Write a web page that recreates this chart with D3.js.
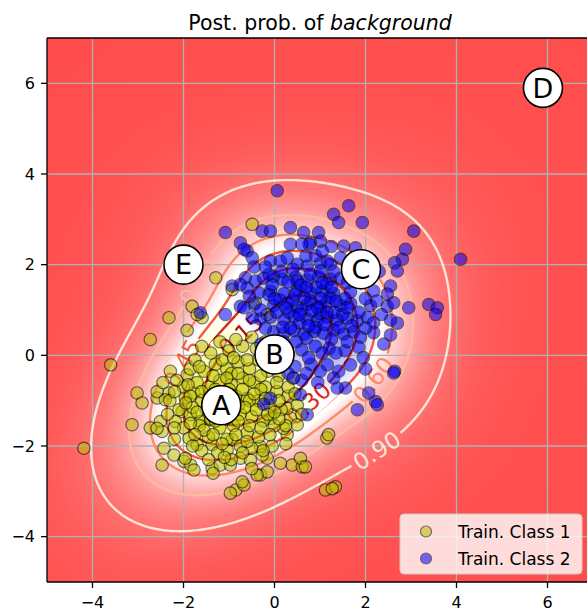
<!DOCTYPE html>
<html><head><meta charset="utf-8">
<script src="https://cdn.jsdelivr.net/npm/d3@7"></script>
<style>body{margin:0;background:#fff}svg{display:block}text{font-family:"DejaVu Sans",sans-serif}</style>
</head><body><svg id="chart" width="587" height="611"></svg>
<script>
const class1 = [[-0.49,2.89],[-1.29,1.71],[-0.93,1.45],[-1.81,1.08],[-1.59,0.83],[-1.70,0.90],[-2.32,0.83],[-2.73,0.35],[-3.60,-0.21],[-4.19,-2.05],[-1.92,0.55],[-3.02,-0.83],[-2.91,-1.05],[-2.58,-0.94],[-2.32,-0.83],[-3.13,-1.53],[-2.73,-1.60],[-2.51,-1.46],[-2.47,-1.68],[-2.43,-2.05],[-2.21,-2.20],[-2.47,-2.42],[-1.99,-2.34],[-1.84,-2.42],[-1.77,-2.53],[-1.37,-2.49],[-1.19,-2.42],[-0.85,-2.97],[-0.67,-2.86],[-0.97,-3.04],[-0.16,-2.27],[0.13,-2.38],[0.39,-2.42],[0.61,-2.46],[0.57,-2.27],[1.15,-1.82],[1.19,-1.75],[1.12,-2.97],[1.34,-2.90],[0.35,-1.38],[0.50,-1.53],[0.28,-1.75],[-0.27,-2.20],
[-2.58,-0.80],[-1.96,-0.94],[-1.77,-0.83],[-2.03,-1.24],[-1.85,-1.31],[-1.63,-1.46],[-1.41,-1.42],[-1.88,-1.83],[-1.70,-1.97],[-1.37,-1.97],[-1.96,-2.27],[-0.97,-2.42],[-0.75,-2.27],[-0.93,-1.86],[-1.04,-2.09],[-0.53,-2.31],[-0.31,-2.01],[-0.31,-2.64],[-0.16,-2.57],[-0.71,-2.79],[-2.29,-0.35],[-1.92,-0.43],[-2.40,-0.98],[-2.18,-1.46],[-2.58,-1.61],[-0.42,1.16],[-0.16,0.90],[-0.38,-2.64],[0.68,-2.46],[1.27,-2.94],[0.20,-1.61],[-0.09,-1.39],[0.28,-1.17],
[-1.55,-0.35],[-1.30,-0.20],[-1.05,-0.30],[-0.80,-0.15],[-0.55,-0.30],[-0.35,-0.10],[-0.15,-0.35],[0.10,-0.45],[-1.70,-0.60],[-1.45,-0.70],[-1.20,-0.55],[-0.95,-0.65],[-0.70,-0.50],[-0.45,-0.60],[-0.20,-0.70],[0.05,-0.80],[0.30,-0.90],[-1.60,-1.00],[-1.35,-0.95],[-0.85,-0.90],[-0.60,-0.95],[-0.35,-1.00],[-0.10,-1.10],[0.15,-1.20],[-1.80,-1.15],[-1.50,-1.20],[-0.75,-1.30],[-0.50,-1.35],[-0.25,-1.45],[0.00,-1.55],[-1.65,-1.55],[-1.20,-1.60],[-0.90,-1.55],[-0.60,-1.70],[-0.35,-1.80],[-1.45,-1.80],[-1.05,-1.85],[-0.75,-2.00],[-0.50,-2.05],[-1.25,-2.15],[-0.95,-2.30],[-1.60,-2.10],[-2.00,-1.60],[-2.10,-1.20],[-2.00,-0.70],[-1.85,-0.30],[-1.40,0.05],[-1.00,0.10],[-0.70,0.20],[-0.40,0.15],[-1.25,-1.25],[-1.00,-1.00],[-1.10,-0.80],[-0.80,-1.10],[-1.40,-1.40],[-0.30,-0.75],[0.40,-0.50],[0.50,-1.10],[0.25,-1.55],[-2.30,-1.00],[-0.55,-1.00],[-1.85,-0.90],[-2.15,-0.55],[-0.20,0.30],[-0.95,-0.40],[-1.75,-0.10],[0.20,-0.15],[-0.05,-2.00],[-1.35,-2.60],[-2.20,-1.85],
[-1.15,-0.10],[-0.90,-0.05],[-0.60,-0.10],[-1.65,-0.25],[-1.35,-0.45],[-1.05,-0.50],[-0.80,-0.40],[-0.55,-0.55],[-0.30,-0.45],[-1.90,-0.65],[-1.60,-0.80],[-1.30,-0.75],[-1.00,-0.75],[-0.70,-0.75],[-0.45,-0.85],[-0.20,-0.95],[0.10,-1.00],[-1.95,-1.05],[-1.70,-1.25],[-1.45,-1.10],[-1.15,-1.05],[-0.95,-1.20],[-0.65,-1.15],[-0.40,-1.20],[-0.15,-1.30],[0.10,-1.40],[-1.85,-1.50],[-1.55,-1.65],[-1.30,-1.45],[-1.05,-1.40],[-0.80,-1.45],[-0.55,-1.55],[-0.30,-1.60],[-0.10,-1.75],[-1.75,-1.75],[-1.35,-1.75],[-1.15,-1.95],[-0.85,-1.75],[-0.60,-1.90],[-0.25,-2.10],[-1.45,-2.30],[-1.10,-2.25],[-0.70,-2.15],[-1.80,-2.00],[-2.20,-1.60],[-2.35,-1.30],[-2.20,-0.80],[-2.45,-0.60],[-1.60,0.20],[-1.20,0.30],[-0.85,0.35],[-0.50,0.40],[0.05,-0.60],[0.30,-0.70],[0.45,-0.85],[0.60,-1.30],[0.00,-1.25],[-0.05,-0.20],[0.25,-1.95],[-0.50,-2.50]];
const class2 = [[0.06,3.63],[1.63,3.30],[1.30,3.11],[1.41,2.93],[1.93,2.93],[3.06,2.74],[-1.08,2.71],[-0.27,2.74],[-0.09,2.74],[0.35,2.82],[0.64,2.71],[0.97,2.71],[1.01,2.52],[0.79,2.48],[-0.75,2.48],[-0.60,2.30],[-0.49,2.15],[2.88,2.34],[2.81,2.12],[2.64,2.04],[4.09,2.12],[-0.45,1.95],[-0.09,2.08],[0.13,2.08],[0.50,2.01],[0.72,1.97],[1.01,2.04],[1.23,2.01],[2.70,1.86],[2.55,1.53],[2.95,1.05],[3.39,1.12],[3.58,1.05],[3.54,0.90],[2.48,1.08],[2.70,0.71],[2.64,-0.35],[2.22,-1.02],[1.82,-1.20],[1.56,-0.72],[1.38,-0.72],[0.72,-1.31],[-0.93,1.53],[-0.60,1.49],
[1.52,2.41],[1.78,2.37],[0.28,2.15],[0.69,2.19],[1.45,2.15],[-0.67,2.34],[1.16,2.08],[0.76,2.45],
[-0.64,1.71],[-0.42,1.64],[-0.24,1.70],[-0.02,1.74],[0.17,1.68],[0.46,1.72],[0.72,1.66],[0.97,1.74],[1.23,1.68],[1.45,1.70],
[-0.35,1.38],[-0.09,1.42],[0.21,1.36],[0.50,1.44],[0.79,1.38],[1.05,1.42],[1.30,1.36],[1.67,1.40],[2.18,1.42],[2.48,1.35],
[-0.75,1.08],[-0.45,1.12],[-0.02,1.10],[0.28,1.15],[0.50,1.06],[0.72,1.12],[1.01,1.08],[1.16,1.18],[1.45,1.10],[1.67,1.14],[2.11,1.10],[2.62,1.16],
[-0.31,0.80],[-0.09,0.84],[0.21,0.78],[0.43,0.86],[0.72,0.80],[0.94,0.76],[1.16,0.84],[1.38,0.78],[1.60,0.82],[1.82,0.76],[2.04,0.84],[2.18,0.72],[2.55,0.78],
[-0.02,0.52],[0.21,0.48],[0.43,0.55],[0.65,0.47],[0.87,0.53],[1.08,0.49],[1.30,0.56],[1.52,0.47],[1.74,0.52],[1.89,0.40],[2.18,0.50],[2.55,0.45],
[-1.63,0.94],[-1.08,0.90],[-0.67,1.05],[-0.49,0.83],[-0.12,1.34],[-0.75,1.56],[-0.05,1.56],[-0.12,1.79],[0.50,1.64],[0.79,1.79],[1.01,1.86],
[0.60,1.00],[0.80,1.20],[1.00,0.92],[0.90,0.62],[0.55,0.72],[0.70,0.38],[1.10,0.68],[1.22,1.28],[0.40,1.22],[0.32,0.95],[0.18,0.62],[1.32,0.95],[1.42,0.62],[0.92,1.50],[0.58,1.55],[1.15,1.58],[0.82,0.98],[0.65,1.28],[1.02,1.25],[1.25,0.35],[0.48,0.30],[0.05,0.95],[0.12,1.22],[1.55,1.25],[1.85,0.95],[2.00,1.25],[1.70,0.65],[0.30,1.62],
[-0.05,0.10],[0.30,0.05],[0.60,0.12],[0.90,0.20],[1.20,0.15],[1.55,0.10],[1.85,0.18],[0.45,-0.25],[0.80,-0.20],[1.16,-0.21],[1.41,-0.35],[1.67,-0.21],[2.00,-0.30],[2.62,-0.39],[0.60,-0.55],[0.95,-0.60],[1.30,-0.50],[2.07,-0.83],[2.26,-1.09],[0.30,-0.40],[0.42,-0.50],[0.57,-0.87],[-0.09,-0.95],[-0.24,-1.08],[-0.30,0.25],
[0.35,0.60],[0.55,0.90],[0.75,0.65],[0.95,1.05],[1.15,0.95],[1.35,1.20],[0.45,1.35],[0.70,1.50],[1.05,1.60],[1.25,1.50],[1.50,0.90],[1.60,1.05],[0.25,1.05],[0.00,1.25],[0.15,1.85],[0.40,1.90],[0.90,2.20],[1.30,1.85],[1.60,1.60],[1.90,1.60],[2.25,1.20],[2.35,0.90],[2.00,0.60],[1.60,0.30],[1.35,0.05],[1.05,0.05],[0.75,-0.05],[0.20,0.30],[-0.20,0.60],[-0.30,1.00],[-0.55,1.30],[-0.20,1.95],[0.60,2.45],[1.25,2.40],[1.05,2.30],[0.35,2.45],[2.30,1.85],[2.00,2.05],[1.75,1.85],[2.40,0.25],[1.95,-0.05],[1.00,-0.35],[0.70,-0.40]];

// lettered query points
const markLetters = ["A","B","C","D","E"];
const markX = [-1.17, 0.0, 1.9, 5.9, -2.0];
const markY = [-1.1, 0.02, 1.9, 5.9, 2.0];

// contour levels of the background posterior and where their labels sit
const levels = [0.15, 0.30, 0.45, 0.60, 0.75, 0.90];
const labelAtX = [-0.68, 0.70, -2.2, 2.11, -1.62, 2.22];
const labelAtY = [0.42, -1.0, -0.08, -0.5, 1.62, -2.08];
const ticks = [-4, -2, 0, 2, 4, 6];

// density model: two heavy-tailed (Student-t) components against a flat background
const compMeanX = [-0.307, 0.640];
const compMeanY = [-0.360, 0.946];
const compScaleMajor = [0.867, 0.958];
const compScaleMinor = [0.509, 0.750];
const compAngle = [0.727, 2.389];      // radians
const compWeight = [1.0, 0.223];
const tailDof = 2.962;
const bgLogLevel = -2.614;
// class split used for tinting: Gaussian classes
const classMeanX = [-1.0, 1.0];
const classMeanY = [-1.0, 1.0];
const classSigma = 1.2;

function components(X, Y){
  return compMeanX.map((mx, k) => {
    const c = Math.cos(compAngle[k]), s = Math.sin(compAngle[k]);
    const dx = X - mx, dy = Y - compMeanY[k];
    const u = (c*dx + s*dy) / compScaleMajor[k], v = (-s*dx + c*dy) / compScaleMinor[k];
    return compWeight[k] * Math.pow(1 + (u*u + v*v) / tailDof, -(tailDof + 2) / 2) / (compScaleMajor[k] * compScaleMinor[k]);
  });
}
function pBackground(X, Y){
  const k = components(X, Y), b = Math.exp(bgLogLevel);
  return b / (b + k[0] + k[1]);
}
function share1(X, Y){
  const d = classMeanX.map((mx, k) => ((X-mx)**2 + (Y-classMeanY[k])**2) / (2*classSigma*classSigma));
  return 1 / (1 + Math.exp(d[0] - d[1]));
}

const W = 587, H = 611;
const x = d3.scaleLinear().domain([-5, 7]).range([47, 593]);
const y = d3.scaleLinear().domain([-5, 7]).range([582, 38]);
const svg = d3.select("#chart");
const pw = 546, ph = 544;

// heat map of the posterior
const cv = document.createElement("canvas"); cv.width = pw; cv.height = ph;
const ctx = cv.getContext("2d"); const img = ctx.createImageData(pw, ph);
for (let j = 0; j < ph; j++) for (let i = 0; i < pw; i++) {
  const X = x.invert(47 + i + 0.5), Y = y.invert(38 + j + 0.5);
  const pb = pBackground(X, Y), w = share1(X, Y);
  let r, g, b;
  if (pb >= 0.5) { const a = 0.7 * (2*pb - 1); r = 255; g = 255*(1-a); b = 255*(1-a); }
  else {
    const a = 0.7 * (1 - 2*pb); let cr, cg, cb;
    if (w >= 0.5) { const t = 2*w - 1; cr = 255; cg = 255; cb = 255*(1-t); }
    else { const t = 1 - 2*w; cr = 255*(1-t); cg = 255*(1-t); cb = 255; }
    r = 255*(1-a) + cr*a; g = 255*(1-a) + cg*a; b = 255*(1-a) + cb*a;
  }
  const o = 4*(j*pw + i); img.data[o] = r; img.data[o+1] = g; img.data[o+2] = b; img.data[o+3] = 255;
}
ctx.putImageData(img, 0, 0);
const defs = svg.append("defs");
defs.append("clipPath").attr("id", "plotclip").append("rect").attr("x", 47).attr("y", 38).attr("width", pw).attr("height", ph);
svg.append("image").attr("x", 47).attr("y", 38).attr("width", pw).attr("height", ph).attr("href", cv.toDataURL());

// grid
const grid = svg.append("g").attr("stroke", "#b0b0b0").attr("stroke-width", 1.3);
ticks.forEach(t => {
  grid.append("line").attr("x1", x(t)).attr("x2", x(t)).attr("y1", 38).attr("y2", 582);
  grid.append("line").attr("y1", y(t)).attr("y2", y(t)).attr("x1", 47).attr("x2", 593);
});

// contours of the background posterior
const n = 300, step = 12 / n;
const vals = new Float64Array(n*n);
for (let j = 0; j < n; j++) for (let i = 0; i < n; i++) vals[j*n + i] = 1 - pBackground(-5 + (i+0.5)*step, 7 - (j+0.5)*step);
const cons = d3.contours().size([n, n]).thresholds(levels.map(t => 1 - t))(vals);
const toPx = c => [x(-5 + c[0]*step), y(7 - c[1]*step)];
const color = t => d3.interpolateReds(1 - t);
const mask = defs.append("mask").attr("id", "lblmask").attr("maskUnits", "userSpaceOnUse").attr("x", 0).attr("y", 0).attr("width", W).attr("height", H);
mask.append("rect").attr("width", W).attr("height", H).attr("fill", "white");
const cg = svg.append("g").attr("clip-path", "url(#plotclip)").append("g").attr("mask", "url(#lblmask)");
const lblG = svg.append("g");
cons.forEach(c => {
  const t = Math.round((1 - c.value) * 100) / 100;
  const k = levels.findIndex(l => Math.abs(l - t) < 1e-6);
  const rings = []; c.coordinates.forEach(poly => poly.forEach(ring => rings.push(ring.map(toPx))));
  cg.selectAll(null).data(rings).join("path").attr("d", r => d3.line()(r) + "Z")
    .attr("fill", "none").attr("stroke", color(t)).attr("stroke-width", 2.4);
  const ax = x(labelAtX[k]), ay = y(labelAtY[k]); let bi = null, bd = 1e9;
  rings.forEach(r => r.forEach((pt, i) => { const d = (pt[0]-ax)**2 + (pt[1]-ay)**2; if (d < bd) { bd = d; bi = [r, i]; } }));
  if (!bi) return;
  const [r, i] = bi, m = r.length, a = r[(i-4+m) % m], b = r[(i+4) % m];
  let ang = Math.atan2(b[1]-a[1], b[0]-a[0]) * 180 / Math.PI; if (ang > 90) ang -= 180; if (ang < -90) ang += 180;
  const tf = `translate(${r[i][0]},${r[i][1]}) rotate(${ang})`;
  const tx = lblG.append("text").attr("transform", tf).attr("text-anchor", "middle").attr("dy", "0.36em")
    .attr("font-size", 23).attr("fill", color(t)).text(t.toFixed(2));
  const tw = tx.node().getComputedTextLength();
  mask.append("rect").attr("x", -tw/2 - 4).attr("y", -14).attr("width", tw + 8).attr("height", 28).attr("fill", "black").attr("transform", tf);
});

// training points
const pts = svg.append("g").attr("clip-path", "url(#plotclip)");
pts.selectAll(null).data(class1).join("circle").attr("cx", d => x(d[0])).attr("cy", d => y(d[1])).attr("r", 6.2)
  .attr("fill", "#bfbf00").attr("stroke", "#000").attr("stroke-width", 1.2).attr("opacity", 0.55);
pts.selectAll(null).data(class2).join("circle").attr("cx", d => x(d[0])).attr("cy", d => y(d[1])).attr("r", 6.2)
  .attr("fill", "#0000ff").attr("stroke", "#000").attr("stroke-width", 1.2).attr("opacity", 0.55);

// lettered query points
const mk = svg.append("g").attr("clip-path", "url(#plotclip)").selectAll(null).data(markLetters).join("g")
  .attr("transform", (d, i) => `translate(${x(markX[i])},${y(markY[i])})`);
mk.append("circle").attr("r", 19.5).attr("fill", "white").attr("stroke", "black").attr("stroke-width", 1.6);
mk.append("text").attr("text-anchor", "middle").attr("dy", "0.36em").attr("font-size", 27).text(d => d);

// axes
const axg = svg.append("g").attr("stroke", "black").attr("stroke-width", 1.3);
axg.append("line").attr("x1", 47).attr("x2", 47).attr("y1", 38).attr("y2", 582);
axg.append("line").attr("x1", 47).attr("x2", 593).attr("y1", 38).attr("y2", 38);
axg.append("line").attr("x1", 47).attr("x2", 593).attr("y1", 582).attr("y2", 582);
const fmt = t => t < 0 ? "\u2212" + (-t) : String(t);
ticks.forEach(t => {
  axg.append("line").attr("x1", x(t)).attr("x2", x(t)).attr("y1", 582).attr("y2", 588);
  axg.append("line").attr("x1", 41).attr("x2", 47).attr("y1", y(t)).attr("y2", y(t));
});
svg.append("g").selectAll(null).data(ticks).join("text").attr("x", d => x(d)).attr("y", 608).attr("text-anchor", "middle").attr("font-size", 16).text(fmt);
svg.append("g").selectAll(null).data(ticks).join("text").attr("x", 35).attr("y", d => y(d) + 5.8).attr("text-anchor", "end").attr("font-size", 16).text(fmt);
const title = svg.append("text").attr("x", 320).attr("y", 30).attr("text-anchor", "middle").attr("font-size", 20.5);
title.append("tspan").text("Post. prob. of ");
title.append("tspan").attr("font-style", "italic").text("background");

// legend
const lg = svg.append("g");
lg.append("rect").attr("x", 400).attr("y", 514).attr("width", 182).attr("height", 60).attr("rx", 4)
  .attr("fill", "white").attr("fill-opacity", 0.8).attr("stroke", "#cccccc");
[["Train. Class 1", "#bfbf00"], ["Train. Class 2", "#0000ff"]].forEach((e, i) => {
  lg.append("circle").attr("cx", 426).attr("cy", 531.5 + 27*i).attr("r", 5.5).attr("fill", e[1])
    .attr("stroke", "#000").attr("stroke-width", 1.2).attr("opacity", 0.55);
  lg.append("text").attr("x", 458).attr("y", 537.5 + 27*i).attr("font-size", 17).text(e[0]);
});
</script></body></html>
